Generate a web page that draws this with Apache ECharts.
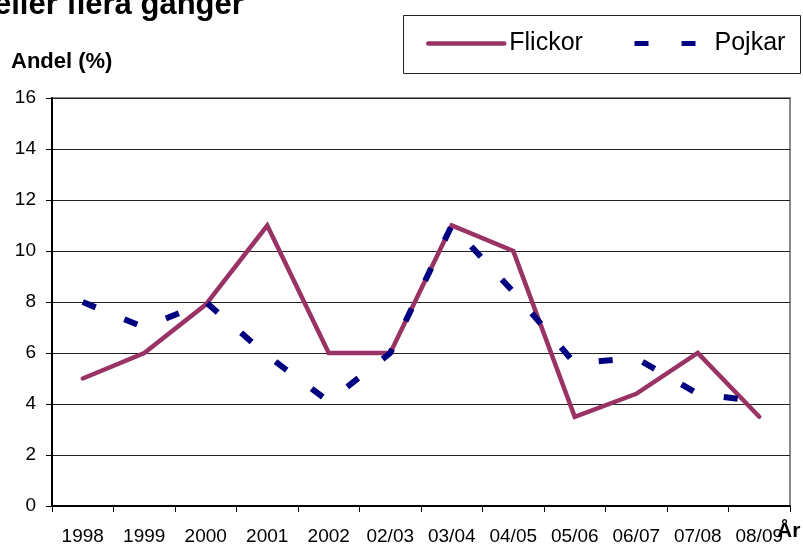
<!DOCTYPE html>
<html>
<head>
<meta charset="utf-8">
<script src="https://cdn.jsdelivr.net/npm/echarts@6/dist/echarts.min.js"></script>
<style>
  html, body { margin: 0; padding: 0; background: #fff; }
  #main { width: 803px; height: 546px; }
</style>
</head>
<body>
<div id="main"></div>
<script>
// kategorier (år) och andel i procent
const years = ['1998', '1999', '2000', '2001', '2002', '02/03', '03/04', '04/05', '05/06', '06/07', '07/08', '08/09'];
const flickor = [5, 6, 7.9, 11, 6, 6, 11, 10, 3.5, 4.4, 6, 3.5];
const pojkar = [8, 7, 8, 5.9, 4.1, 6, 11, 8.4, 5.6, 5.8, 4.4, 4.1];
const yTicks = [0, 2, 4, 6, 8, 10, 12, 14, 16];

const font = 'Liberation Sans, Arial, sans-serif';
const chart = echarts.init(document.getElementById('main'), null, {renderer: 'canvas'});

let option = {
  animation: false,
  backgroundColor: '#fff',
  title: {
    text: 'eller flera gånger',
    left: -6,
    top: -10,
    padding: 0,
    textStyle: {fontFamily: font, fontSize: 31, fontWeight: 'bold', color: '#000'}
  },
  legend: [
    {
      data: ['Flickor'],
      left: 426,
      top: 31,
      padding: 0,
      itemWidth: 76,
      itemHeight: 14,
      itemStyle: {opacity: 0},
      lineStyle: {width: 4.5, color: '#993366', cap: 'round'},
      textStyle: {fontFamily: font, fontSize: 25, color: '#000'}
    },
    {
      data: ['Pojkar'],
      left: 632,
      top: 31,
      padding: 0,
      itemWidth: 61,
      itemHeight: 14,
      itemStyle: {opacity: 0},
      lineStyle: {width: 5, color: '#000080', type: [14, 33], cap: 'butt'},
      textStyle: {fontFamily: font, fontSize: 25, color: '#000', padding: [0, 0, 0, 14]}
    }
  ],
  graphic: [
    { // legendens ram
      type: 'rect',
      shape: {x: 403.5, y: 15.5, width: 397, height: 58},
      style: {fill: 'none', stroke: '#222', lineWidth: 1}
    },
    {
      type: 'text',
      left: 11,
      top: 51,
      style: {text: 'Andel (%)', font: 'bold 22px ' + font, fill: '#000'}
    },
    {
      type: 'text',
      left: 777,
      top: 521,
      z: 100,
      style: {text: 'År', font: 'bold 21px ' + font, fill: '#000'}
    }
  ],
  grid: {
    left: 52,
    right: 13,
    top: 98,
    bottom: 38,
    show: true,
    borderColor: '#8a8a8a',
    borderWidth: 2
  },
  xAxis: {
    type: 'category',
    data: years,
    boundaryGap: true,
    axisLine: {lineStyle: {color: '#000', width: 2}},
    axisTick: {show: true, length: 6, interval: 0, lineStyle: {color: '#000'}},
    axisLabel: {interval: 0, margin: 21, fontFamily: font, fontSize: 19, color: '#000'},
    splitLine: {show: false}
  },
  yAxis: {
    type: 'value',
    min: yTicks[0],
    max: yTicks[yTicks.length - 1],
    interval: 2,
    axisLine: {show: true, lineStyle: {color: '#000', width: 2}},
    axisTick: {show: true, length: 6, lineStyle: {color: '#000'}},
    axisLabel: {margin: 16, fontFamily: font, fontSize: 19, color: '#000'},
    splitLine: {show: true, lineStyle: {color: '#222', width: 1}}
  },
  series: [
    {
      name: 'Flickor',
      type: 'line',
      data: flickor,
      symbol: 'none',
      color: '#993366',
      lineStyle: {color: '#993366', width: 4.5, cap: 'round', join: 'miter'}
    },
    {
      name: 'Pojkar',
      type: 'line',
      data: pojkar,
      symbol: 'none',
      color: '#000080',
      lineStyle: {color: '#000080', width: 6, type: [14, 31], cap: 'butt'}
    }
  ]
};

chart.setOption(option);
</script>
</body>
</html>
